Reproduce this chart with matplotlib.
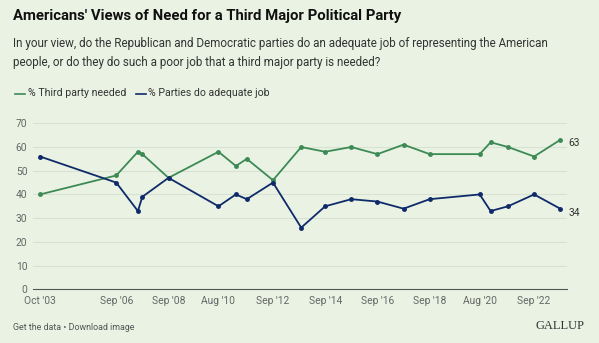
import pandas as pd
import matplotlib
matplotlib.use("Agg")
import matplotlib.pyplot as plt

# survey dates
dates = ["2003-10", "2006-09", "2007-07", "2007-09", "2008-09", "2010-08",
         "2011-04", "2011-09", "2012-09", "2013-10", "2014-09", "2015-09",
         "2016-09", "2017-09", "2018-09", "2020-08", "2021-01", "2021-09",
         "2022-09", "2023-09"]
third_party = [40, 48, 58, 57, 47, 58, 52, 55, 46, 60, 58, 60, 57, 61, 57, 57, 62, 60, 56, 63]
adequate = [56, 45, 33, 39, 47, 35, 40, 38, 45, 26, 35, 38, 37, 34, 38, 40, 33, 35, 40, 34]

tick_dates = ["2003-10", "2006-09", "2008-09", "2010-08", "2012-09", "2014-09",
              "2016-09", "2018-09", "2020-08", "2022-09"]
tick_labels = ["Oct '03", "Sep '06", "Sep '08", "Aug '10", "Sep '12", "Sep '14",
               "Sep '16", "Sep '18", "Aug '20", "Sep '22"]

bg = "#e9f2e3"
green = "#3d8a55"
navy = "#0f2a6b"

plt.rcParams["font.family"] = ["Roboto", "DejaVu Sans"]

W, H = 599, 343
fig = plt.figure(figsize=(W / 100, H / 100), dpi=100, facecolor=bg)
ax = fig.add_axes([33 / W, 1 - 289.3 / H, (567 - 33) / W, (289.3 - 123.3) / H])
ax.set_facecolor(bg)

x = pd.to_datetime(dates)
ax.plot(x, third_party, color=green, lw=1.3, marker="o", ms=2.5, zorder=3)
ax.plot(x, adequate, color=navy, lw=1.3, marker="o", ms=2.5, zorder=3)

# end labels
ax.annotate(str(third_party[-1]), (x[-1], third_party[-1]), xytext=(6, -2),
            textcoords="offset points", va="center", fontsize=7.4, color="#333333")
ax.annotate(str(adequate[-1]), (x[-1], adequate[-1]), xytext=(6, -3),
            textcoords="offset points", va="center", fontsize=7.4, color="#333333")

ax.set_ylim(0, 70)
ax.set_yticks(range(0, 71, 10))
ax.set_xlim(pd.Timestamp("2003-06-25"), pd.Timestamp("2023-12-05"))
ax.set_xticks(pd.to_datetime(tick_dates))
ax.set_xticklabels(tick_labels)

ax.grid(axis="y", color="#d8e2d2", lw=0.8)
ax.set_axisbelow(True)
for s in ["top", "right", "left"]:
    ax.spines[s].set_visible(False)
ax.spines["bottom"].set_color("#555555")
ax.spines["bottom"].set_linewidth(0.8)
ax.tick_params(length=0, labelsize=7.4, labelcolor="#666666")
ax.tick_params(axis="y", pad=4)
ax.tick_params(axis="x", pad=4.5)

# header
fig.text(13 / W, 1 - 16 / H, "Americans' Views of Need for a Third Major Political Party",
         fontsize=10.7, fontweight="bold", color="#111111", va="center")
fig.text(13 / W, 1 - 43 / H,
         "In your view, do the Republican and Democratic parties do an adequate job of representing the American",
         fontsize=8.4, color="#333333", va="center")
fig.text(13 / W, 1 - 62.5 / H,
         "people, or do they do such a poor job that a third major party is needed?",
         fontsize=8.4, color="#333333", va="center")

# legend
leg_y = 1 - 93.5 / H
fig.add_artist(plt.Line2D([15 / W, 25 / W], [leg_y, leg_y], color=green, lw=1.2))
fig.text(28 / W, leg_y, "% Third party needed", fontsize=7.6, color="#333333", va="center")
fig.add_artist(plt.Line2D([136 / W, 146 / W], [leg_y, leg_y], color=navy, lw=1.2))
fig.text(148 / W, leg_y, "% Parties do adequate job", fontsize=7.6, color="#333333", va="center")

# footer
fig.text(13 / W, 1 - 327 / H, "Get the data \u2022 Download image", fontsize=6.4,
         color="#555555", va="center")
fig.text(585 / W, 1 - 326 / H, "GALLUP", fontsize=9, family="Liberation Serif",
         color="#333333", va="center", ha="right")

fig.savefig("out.png", dpi=100, facecolor=bg)
